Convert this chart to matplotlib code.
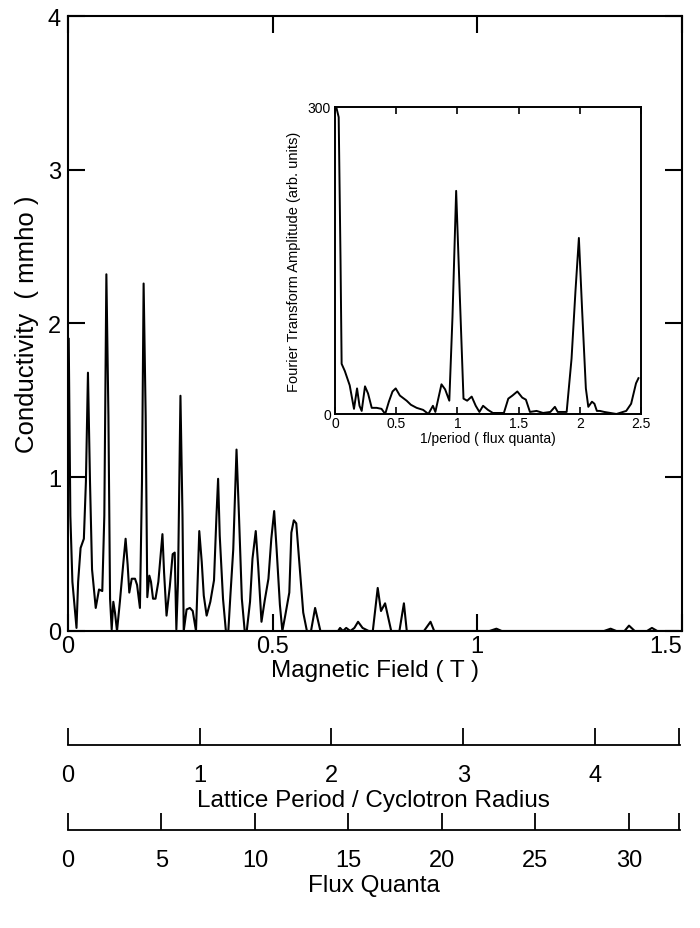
import numpy as np
import matplotlib
matplotlib.use("Agg")
import matplotlib.pyplot as plt

plt.rcParams['font.family'] = ['Liberation Sans', 'DejaVu Sans']

# Main trace: magnetic field (T) vs conductivity (mmho)
field_T = [0.002, 0.006, 0.011, 0.021, 0.025, 0.031, 0.039, 0.044, 0.049, 0.054,
           0.059, 0.068, 0.076, 0.084, 0.089, 0.094, 0.099, 0.103, 0.107, 0.111,
           0.115, 0.120, 0.127, 0.135, 0.141, 0.146, 0.150, 0.156, 0.164, 0.169,
           0.176, 0.181, 0.185, 0.190, 0.194, 0.199, 0.203, 0.208, 0.214, 0.221,
           0.231, 0.235, 0.241, 0.249, 0.256, 0.261, 0.265, 0.269, 0.275, 0.280,
           0.283, 0.290, 0.298, 0.305, 0.313, 0.317, 0.321, 0.327, 0.332, 0.339,
           0.348, 0.357, 0.363, 0.367, 0.371, 0.379, 0.386, 0.392, 0.397, 0.404,
           0.412, 0.418, 0.425, 0.432, 0.437, 0.445, 0.451, 0.459, 0.465, 0.473,
           0.481, 0.490, 0.497, 0.504, 0.510, 0.518, 0.524, 0.531, 0.541, 0.546,
           0.552, 0.558, 0.566, 0.575, 0.584, 0.594, 0.604, 0.611, 0.617, 0.640,
           0.660, 0.665, 0.672, 0.680, 0.690, 0.700, 0.709, 0.720, 0.735, 0.745,
           0.757, 0.765, 0.775, 0.790, 0.810, 0.821, 0.828, 0.870, 0.886, 0.895,
           1.030, 1.047, 1.060, 1.310, 1.326, 1.340, 1.360, 1.371, 1.385, 1.415,
           1.427, 1.440, 1.490]
conductivity = [1.90, 0.75, 0.32, 0.02, 0.32, 0.54, 0.60, 0.97, 1.68, 0.97,
                0.40, 0.15, 0.27, 0.26, 0.75, 2.32, 1.40, 0.21, 0.01, 0.19,
                0.12, 0.00, 0.19, 0.43, 0.60, 0.43, 0.25, 0.34, 0.34, 0.30,
                0.15, 0.97, 2.26, 1.40, 0.22, 0.36, 0.32, 0.21, 0.21, 0.32,
                0.63, 0.38, 0.10, 0.29, 0.50, 0.51, 0.01, 0.32, 1.53, 0.75,
                0.00, 0.14, 0.15, 0.13, 0.00, 0.32, 0.65, 0.45, 0.23, 0.10,
                0.19, 0.33, 0.75, 0.99, 0.62, 0.21, 0.00, 0.00, 0.23, 0.53,
                1.18, 0.75, 0.21, 0.00, 0.00, 0.19, 0.47, 0.65, 0.42, 0.06,
                0.20, 0.34, 0.60, 0.78, 0.53, 0.17, 0.00, 0.10, 0.25, 0.64,
                0.72, 0.70, 0.43, 0.12, 0.00, 0.00, 0.15, 0.07, 0.00, 0.00,
                0.00, 0.02, 0.00, 0.02, 0.00, 0.02, 0.06, 0.02, 0.00, 0.00,
                0.28, 0.13, 0.18, 0.00, 0.00, 0.18, 0.00, 0.00, 0.06, 0.00,
                0.00, 0.015, 0.00, 0.00, 0.015, 0.00, 0.00, 0.035, 0.00, 0.00,
                0.02, 0.00, 0.00]

# Inset: Fourier transform
inv_period = [0.01, 0.03, 0.045, 0.054, 0.08, 0.10, 0.12, 0.155, 0.18, 0.20,
              0.218, 0.245, 0.27, 0.30, 0.34, 0.38, 0.41, 0.44, 0.47, 0.496,
              0.53, 0.585, 0.62, 0.667, 0.72, 0.763, 0.80, 0.82, 0.87, 0.90,
              0.934, 0.96, 0.99, 1.02, 1.05, 1.08, 1.117, 1.15, 1.18, 1.21,
              1.25, 1.29, 1.38, 1.416, 1.45, 1.49, 1.53, 1.56, 1.593, 1.647,
              1.70, 1.76, 1.797, 1.82, 1.893, 1.933, 1.965, 1.993, 2.02, 2.05,
              2.07, 2.10, 2.12, 2.14, 2.165, 2.20, 2.30, 2.38, 2.42, 2.46, 2.48]
ft_amp = [300, 290, 150, 49, 42, 35, 28, 5, 25, 8,
          3, 27, 20, 6, 6, 5, 0, 12, 22, 25,
          18, 13, 9, 6, 4, 0, 8, 2, 29, 24,
          13, 95, 218, 115, 15, 13, 17, 8, 2, 8,
          4, 1, 1, 15, 18, 22, 16, 14, 2, 3,
          1, 2, 7, 2, 2, 54, 120, 172, 100, 25,
          7, 12, 10, 3, 3, 2, 0, 3, 10, 30, 35]

# Secondary scales
lattice_ticks = [0, 1, 2, 3, 4]
flux_ticks = [0, 5, 10, 15, 20, 25, 30]
LATTICE_PER_T = 3.095
FLUX_PER_T = 21.81
B_MAX = 1.5

fig = plt.figure(figsize=(7.0, 9.29), dpi=100)

L, R = 0.097, 0.974
ax = fig.add_axes([L, 0.3197, R - L, 0.9817 - 0.3197])
ax.plot(field_T, conductivity, color='black', lw=1.5)
ax.set_xlim(0, B_MAX)
ax.set_ylim(0, 4)
ax.set_xticks([0, 0.5, 1, 1.5])
xl = ax.set_xticklabels(['0', '0.5', '1', '1.5'])
xl[-1].set_horizontalalignment('right')
ax.set_yticks([0, 1, 2, 3, 4])
ax.tick_params(direction='in', length=12, width=1.5, labelsize=17,
               top=True, right=True, pad=5)
ax.tick_params(axis='x', pad=3)
for s in ax.spines.values():
    s.set_linewidth(1.5)
ax.set_xlabel('Magnetic Field ( T )', fontsize=17.5, labelpad=1)
ax.set_ylabel('Conductivity  ( mmho )', fontsize=18.5, labelpad=6)

# Inset
ins = fig.add_axes([0.4786, 0.5533, 0.437, 0.3305])
ins.plot(inv_period, ft_amp, color='black', lw=1.4)
ins.set_xlim(0, 2.5)
ins.set_ylim(0, 300)
ins.set_xticks([0, 0.5, 1, 1.5, 2, 2.5])
ins.set_xticklabels(['0', '0.5', '1', '1.5', '2', '2.5'])
ins.set_yticks([0, 300])
ins.tick_params(direction='in', length=5, width=1.2, labelsize=10, pad=1.5,
                top=True)
ins.tick_params(axis='y', length=0, pad=3)
for s in ins.spines.values():
    s.set_linewidth(1.4)
ins.set_xlabel('1/period ( flux quanta)', fontsize=10, labelpad=0.5)
ins.set_ylabel('Fourier Transform Amplitude (arb. units)', fontsize=10.5,
               labelpad=5)


def scale_axis(ypos, vmax, ticks, label):
    a = fig.add_axes([L, ypos, R - L - 0.003, 0.02])
    a.set_xlim(0, vmax)
    a.set_ylim(0, 1)
    a.patch.set_visible(False)
    for k in ['top', 'left', 'right']:
        a.spines[k].set_visible(False)
    a.spines['bottom'].set_linewidth(1.3)
    a.set_yticks([])
    a.set_xticks(ticks)
    a.set_xticklabels([str(t) for t in ticks])
    a.set_xticks([vmax * 0.999], minor=True)
    a.tick_params(axis='x', which='both', direction='in', length=12,
                  width=1.3, labelsize=17, pad=14)
    a.set_xlabel(label, fontsize=17.5, labelpad=2)
    return a


scale_axis(1 - 746 / 929, B_MAX * LATTICE_PER_T, lattice_ticks,
           'Lattice Period / Cyclotron Radius')
scale_axis(1 - 831 / 929, B_MAX * FLUX_PER_T, flux_ticks, 'Flux Quanta')

fig.savefig('out.png', dpi=100)
